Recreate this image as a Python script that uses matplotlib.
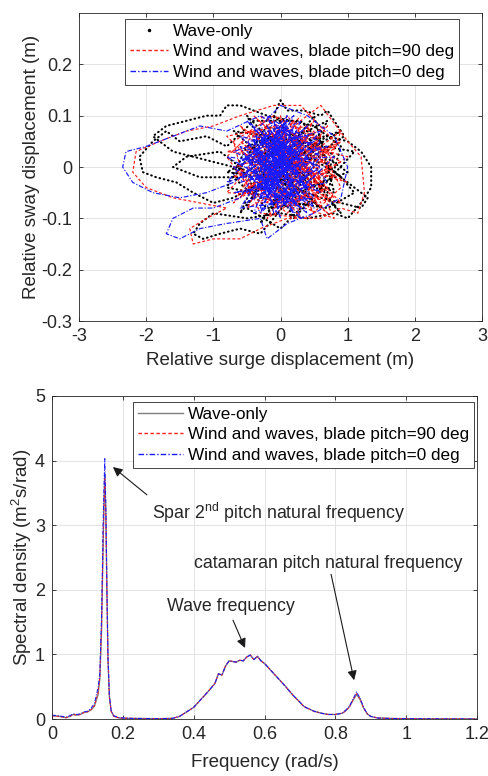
import numpy as np
import matplotlib
matplotlib.use("Agg")
import matplotlib.pyplot as plt
from matplotlib.lines import Line2D

plt.rcParams['font.family'] = ['Liberation Sans', 'DejaVu Sans']
plt.rcParams['mathtext.fontset'] = 'custom'
plt.rcParams['mathtext.rm'] = 'Liberation Sans'
plt.rcParams['mathtext.it'] = 'Liberation Sans:italic'

# ---------------- data: top panel (surge, sway) trajectories ----------------
wave_only_path = [
    (0.0, 0.0), (0.3, 0.05), (-0.2, 0.08), (-0.5, 0.02), (0.1, -0.06), (0.6, -0.03),
    (0.4, 0.07), (-0.3, 0.05), (-0.7, -0.02), (-0.2, -0.08), (0.5, -0.07), (0.8, 0.02),
    (0.3, 0.09), (-0.4, 0.09), (-0.8, 0.04), (-1.1, 0.06), (-1.5, 0.05), (-1.7, 0.07),
    (-1.9, 0.05), (-2.1, 0.02), (-2.05, -0.01), (-1.85, -0.02), (-1.55, -0.03),
    (-1.3, -0.05), (-1.0, -0.07), (-0.7, -0.06), (-0.3, -0.03), (0.2, 0.02), (0.7, 0.06),
    (1.0, 0.05), (1.2, 0.03), (1.35, 0.0), (1.35, -0.04), (1.2, -0.07), (1.0, -0.1),
    (0.8, -0.09), (0.4, -0.1), (0.0, -0.09), (-0.5, -0.1), (-1.0, -0.09), (-1.2, -0.11),
    (-1.3, -0.13), (-1.15, -0.14), (-0.9, -0.13), (-0.6, -0.12), (-0.3, -0.13),
    (-0.1, -0.1), (0.2, -0.05), (0.5, 0.0), (0.2, 0.06), (-0.1, 0.1), (0.0, 0.13),
    (0.1, 0.11), (0.35, 0.11), (0.6, 0.1), (0.7, 0.11), (0.85, 0.08), (0.95, 0.06),
    (0.6, 0.03), (0.1, -0.02), (-0.4, -0.05), (-0.8, -0.04), (-0.5, 0.04), (-0.1, 0.06),
    (0.4, 0.04), (0.9, -0.02), (1.1, -0.05), (0.7, -0.08), (0.2, -0.07), (-0.3, -0.06),
    (-0.6, 0.0), (-0.9, 0.03), (-1.4, 0.02), (-1.6, 0.0), (-1.2, -0.02), (-0.6, -0.02),
    (-0.1, 0.03), (0.3, 0.0), (0.7, -0.05), (0.9, 0.04), (0.5, 0.08), (-0.2, 0.1),
    (-0.6, 0.12), (-0.8, 0.12), (-0.9, 0.1), (-1.1, 0.1), (-1.4, 0.09), (-1.7, 0.08),
    (-1.9, 0.06), (-1.6, 0.03), (-1.0, 0.01), (-0.4, -0.01), (0.2, -0.04), (0.6, -0.06),
    (1.2, -0.08), (1.3, -0.06), (0.8, -0.01), (0.3, 0.03), (-0.2, 0.0), (-0.5, -0.08),
    (0.0, -0.12), (0.3, -0.08), (0.0, 0.0),
    (0.9, 0.07), (-0.3, 0.02), (0.6, -0.08), (-0.7, 0.07), (0.3, 0.05), (-0.1, -0.07),
    (1.0, -0.01), (0.0, 0.08), (-0.6, -0.09), (0.5, 0.1), (0.8, -0.05), (-0.4, 0.04),
    (0.2, -0.1), (1.1, 0.03), (-0.2, 0.06), (0.4, -0.03), (-0.8, -0.01), (0.7, 0.09),
    (0.1, -0.05), (-0.5, 0.1), (0.9, -0.09), (0.3, 0.01), (-0.3, -0.11), (0.6, 0.05),
    (0.0, 0.0),
]
pitch90_path = [
    (0.1, 0.0), (-0.3, 0.06), (0.4, 0.08), (0.7, 0.0), (0.2, -0.08), (-0.5, -0.05),
    (-0.7, 0.05), (-0.1, 0.1), (0.5, 0.06), (0.9, -0.04), (0.4, -0.1), (-0.3, -0.09),
    (-0.6, 0.0), (-0.2, 0.04), (0.3, -0.02), (0.8, 0.05), (0.3, 0.12), (-0.1, 0.12),
    (-0.6, 0.1), (-1.0, 0.08), (-1.4, 0.07), (-1.8, 0.05), (-2.15, 0.03), (-2.2, -0.01),
    (-2.0, -0.04), (-1.6, -0.06), (-1.2, -0.07), (-0.8, -0.08), (-1.1, -0.1),
    (-1.35, -0.12), (-1.3, -0.15), (-1.0, -0.14), (-0.6, -0.14), (-0.3, -0.12),
    (0.1, -0.1), (0.6, -0.1), (0.9, -0.08), (1.15, -0.09), (1.25, -0.05), (1.2, 0.02),
    (1.0, 0.05), (0.6, 0.12), (0.3, 0.09), (-0.2, 0.03), (-0.5, -0.03), (0.0, -0.06),
    (0.5, -0.03), (0.2, 0.05), (-0.4, 0.07), (-0.8, 0.02), (-0.3, -0.07), (0.3, -0.06),
    (0.7, 0.03), (0.1, 0.07), (-0.2, -0.02), (0.4, 0.02), (0.9, 0.07), (0.5, -0.07),
    (-0.1, -0.04), (-0.5, 0.05), (0.0, 0.1), (0.1, 0.02),
    (0.6, 0.04), (-0.4, -0.02), (0.2, 0.09), (-0.8, -0.05), (0.8, -0.06), (-0.1, 0.05),
    (0.5, -0.09), (-0.6, 0.08), (0.3, -0.01), (-0.3, 0.1), (0.9, 0.01), (-0.5, -0.08),
    (0.0, 0.03), (0.7, 0.08), (-0.2, -0.07), (0.4, 0.04), (-0.7, 0.0), (0.1, -0.09),
    (0.6, -0.02), (-0.4, 0.06), (1.0, -0.03), (0.2, 0.0), (-0.6, -0.06), (0.5, 0.09),
    (-0.1, -0.03), (0.8, 0.04), (-0.3, 0.02), (0.3, -0.08), (-0.8, 0.06), (0.0, 0.08),
    (0.6, -0.07), (-0.2, 0.07), (0.4, 0.01), (-0.5, -0.04), (0.9, -0.07), (0.1, 0.04),
    (-0.4, 0.1), (0.7, -0.04), (-0.1, -0.08), (0.5, 0.02), (-0.7, -0.02), (0.2, 0.06),
    (0.8, -0.1), (-0.3, -0.05), (0.3, 0.08), (0.0, -0.01), (-0.6, 0.03), (0.6, 0.06),
    (-0.2, -0.1), (0.4, -0.05),
    (0.7, -0.09), (-0.6, 0.05), (0.2, -0.04), (0.9, 0.05), (-0.3, -0.03), (0.5, 0.07),
    (-0.7, -0.07), (0.1, 0.1), (0.8, -0.02), (-0.4, 0.02), (0.3, -0.1), (-0.1, 0.08),
    (0.6, 0.01), (-0.8, 0.03), (0.4, 0.06), (0.0, -0.07), (1.0, 0.02), (-0.5, 0.07),
    (0.2, 0.03), (0.7, -0.06), (-0.2, 0.0), (0.5, -0.04), (0.0, 0.05), (0.3, 0.1),
]
pitch0_path = [
    (-0.1, 0.0), (0.3, 0.04), (-0.4, 0.06), (-0.2, -0.06), (0.4, -0.05), (0.1, 0.08),
    (-0.5, 0.02), (0.0, -0.08), (0.6, 0.02), (-0.3, 0.1), (-0.8, 0.07), (-1.2, 0.08),
    (-1.6, 0.06), (-2.0, 0.04), (-2.3, 0.03), (-2.35, 0.0), (-2.2, -0.03), (-1.9, -0.05),
    (-1.5, -0.06), (-1.1, -0.05), (-0.7, -0.03), (-0.2, 0.02), (0.3, -0.02), (-0.1, 0.05),
    (-0.6, -0.06), (-1.0, -0.08), (-1.3, -0.08), (-1.6, -0.1), (-1.7, -0.13),
    (-1.5, -0.14), (-1.2, -0.12), (-0.8, -0.11), (-0.3, -0.1), (-0.2, -0.14),
    (0.1, -0.11), (0.5, -0.09), (0.9, -0.06), (1.0, 0.0), (0.8, 0.06), (0.4, 0.1),
    (0.0, 0.12), (-0.3, 0.08), (0.2, 0.0), (-0.3, -0.04), (0.1, 0.04), (0.5, -0.02),
    (-0.1, -0.07), (-0.5, -0.01), (-0.2, 0.07), (0.2, 0.07), (0.6, 0.05), (0.0, -0.03),
    (-0.4, 0.03), (0.3, -0.08), (-0.2, -0.01), (0.1, 0.01),
    (0.2, -0.03), (-0.5, 0.05), (0.4, 0.06), (-0.3, -0.08), (0.1, 0.09), (-0.6, -0.03),
    (0.5, 0.01), (-0.1, -0.09), (-0.4, 0.08), (0.3, -0.06), (-0.2, 0.04), (0.6, -0.05),
    (-0.7, 0.03), (0.0, 0.06), (0.2, -0.08), (-0.3, 0.0), (0.4, 0.08), (-0.5, -0.07),
    (0.1, -0.02), (-0.1, 0.09), (0.5, -0.08), (-0.6, 0.06), (0.3, 0.03), (-0.2, -0.05),
    (0.0, 0.02), (-0.4, -0.03), (0.2, 0.1), (-0.3, 0.05), (0.6, 0.0), (-0.1, -0.06),
    (0.1, 0.05), (-0.5, 0.0), (0.3, -0.1), (-0.2, 0.08), (0.4, -0.02), (-0.7, -0.05),
    (0.0, -0.04), (-0.3, 0.03), (0.5, 0.05), (-0.1, 0.0), (0.2, -0.05), (-0.4, -0.09),
    (0.1, 0.07), (-0.6, 0.01), (0.3, 0.06), (-0.2, -0.03), (0.0, 0.08), (0.7, -0.03),
    (-0.3, -0.06), (0.2, 0.02), (-0.5, 0.09), (0.4, -0.04), (-0.1, 0.04), (-0.4, -0.01),
    (0.1, -0.07), (0.8, 0.02), (-0.2, 0.01), (0.0, -0.1), (-0.6, 0.04), (0.3, 0.0),
    (-0.8, 0.02), (0.4, -0.07), (-0.2, 0.1), (0.6, 0.03), (-0.5, -0.05), (0.1, 0.0),
    (-0.3, 0.07), (0.5, -0.06), (-0.6, -0.08), (0.2, 0.08), (-0.1, -0.02), (0.3, 0.05),
    (-0.7, 0.0), (0.0, -0.06), (0.4, 0.02), (-0.4, 0.05), (0.2, -0.09), (-0.2, -0.04),
    (0.6, 0.07), (-0.5, 0.03), (0.1, -0.04), (-0.3, -0.09), (0.3, 0.09), (-0.1, 0.06),
    (0.5, -0.01), (-0.6, -0.02), (0.0, 0.04), (-0.4, -0.06), (0.2, 0.04), (-0.2, 0.02),
    (0.7, 0.04), (-0.8, -0.03), (0.1, 0.1), (-0.3, -0.02), (0.4, -0.09), (0.0, 0.01),
]

# ---------------- data: bottom panel spectra ----------------
freq = [0.00, 0.02, 0.04, 0.05, 0.06, 0.07, 0.08, 0.09, 0.10, 0.11, 0.12, 0.13, 0.135,
        0.14, 0.145, 0.149, 0.152, 0.155, 0.158, 0.162, 0.167, 0.175, 0.19, 0.22, 0.30,
        0.34, 0.36, 0.38, 0.40, 0.42, 0.44, 0.46, 0.47, 0.48, 0.49, 0.50, 0.51, 0.52,
        0.53, 0.54, 0.55, 0.56, 0.57, 0.58, 0.59, 0.60, 0.61, 0.62, 0.64, 0.66, 0.68,
        0.70, 0.71, 0.72, 0.74, 0.76, 0.78, 0.80, 0.82, 0.83, 0.84, 0.85, 0.86, 0.87,
        0.88, 0.89, 0.90, 0.92, 0.96, 1.00, 1.10, 1.20]
psd_wave_only = [0.05, 0.04, 0.02, 0.04, 0.07, 0.06, 0.07, 0.10, 0.11, 0.14, 0.20, 0.38,
                 0.62, 1.40, 2.90, 3.80, 3.20, 2.00, 0.95, 0.35, 0.12, 0.04, 0.015, 0.01,
                 0.005, 0.01, 0.04, 0.11, 0.18, 0.30, 0.42, 0.55, 0.70, 0.68, 0.82, 0.90,
                 0.89, 0.88, 0.91, 0.90, 0.96, 0.99, 0.92, 0.97, 0.90, 0.86, 0.80, 0.74,
                 0.62, 0.50, 0.37, 0.26, 0.20, 0.17, 0.12, 0.09, 0.07, 0.07, 0.09, 0.13,
                 0.19, 0.29, 0.38, 0.30, 0.17, 0.08, 0.04, 0.015, 0.008, 0.005, 0.002, 0.0]
psd_pitch90 = [0.05, 0.04, 0.02, 0.04, 0.07, 0.06, 0.07, 0.10, 0.11, 0.14, 0.21, 0.40,
               0.64, 1.45, 2.95, 3.72, 3.15, 1.95, 0.92, 0.34, 0.12, 0.04, 0.015, 0.01,
               0.005, 0.01, 0.04, 0.11, 0.18, 0.30, 0.42, 0.55, 0.70, 0.68, 0.82, 0.90,
               0.89, 0.88, 0.91, 0.90, 0.96, 0.99, 0.92, 0.97, 0.90, 0.86, 0.80, 0.74,
               0.62, 0.50, 0.37, 0.26, 0.20, 0.17, 0.12, 0.09, 0.07, 0.07, 0.09, 0.13,
               0.19, 0.30, 0.39, 0.31, 0.17, 0.08, 0.04, 0.015, 0.008, 0.005, 0.002, 0.0]
psd_pitch0 = [0.06, 0.05, 0.03, 0.05, 0.08, 0.07, 0.08, 0.11, 0.12, 0.16, 0.25, 0.48,
              0.70, 1.60, 3.20, 4.03, 3.30, 2.05, 0.98, 0.36, 0.13, 0.05, 0.02, 0.01,
              0.005, 0.01, 0.04, 0.11, 0.18, 0.30, 0.42, 0.55, 0.70, 0.68, 0.82, 0.90,
              0.89, 0.88, 0.91, 0.90, 0.96, 0.99, 0.92, 0.97, 0.90, 0.86, 0.80, 0.74,
              0.62, 0.50, 0.37, 0.26, 0.20, 0.17, 0.12, 0.09, 0.07, 0.07, 0.09, 0.14,
              0.20, 0.31, 0.42, 0.32, 0.18, 0.08, 0.04, 0.015, 0.008, 0.005, 0.002, 0.0]

labels = ["Wave-only", "Wind and waves, blade pitch=90 deg", "Wind and waves, blade pitch=0 deg"]

# ---------------- figure ----------------
fig = plt.figure(figsize=(4.88, 7.76), dpi=100)
axc = '#262626'
gridc = '#e3e3e3'
TICK_FS = 13
LABEL_FS = 13.5
LEG_FS = 12.3
ANN_FS = 12.8
RED = '#ff1a1a'
BLUE = '#1a1aff'
RED_LS = (0, (2.5, 1.8))
BLUE_LS = (0, (4, 1.5, 1, 1.5))


def style(ax):
    ax.grid(True, color=gridc, lw=0.7)
    ax.set_axisbelow(True)
    ax.tick_params(direction='in', length=3, width=0.6, colors=axc, labelsize=TICK_FS,
                   top=True, right=True, pad=5)
    for s in ax.spines.values():
        s.set_color(axc)
        s.set_linewidth(0.6)


# top panel
ax1 = fig.add_axes([79 / 488, 1 - 321 / 776, 403 / 488, 308 / 776])
w = np.array(wave_only_path)
r = np.array(pitch90_path)
b = np.array(pitch0_path)
ax1.plot(w[:, 0], w[:, 1], color='k', ls=(0, (0.3, 1.8)), lw=1.5, dash_capstyle='round')
ax1.plot(r[:, 0], r[:, 1], color=RED, ls=RED_LS, lw=0.85)
ax1.plot(b[:, 0], b[:, 1], color=BLUE, ls=BLUE_LS, lw=0.85)
ax1.set_xlim(-3, 3)
ax1.set_ylim(-0.3, 0.3)
ax1.set_xticks([-3, -2, -1, 0, 1, 2, 3])
ax1.set_yticks([-0.3, -0.2, -0.1, 0, 0.1, 0.2])
ax1.set_yticklabels(['-0.3', '-0.2', '-0.1', '0', '0.1', '0.2'])
ax1.set_xticklabels(['-3', '-2', '-1', '0', '1', '2', '3'])
style(ax1)
ax1.set_xlabel('Relative surge displacement (m)', fontsize=LABEL_FS, color=axc, labelpad=5)
ax1.set_ylabel('Relative sway displacement (m)', fontsize=LABEL_FS, color=axc, labelpad=1)
h1 = [Line2D([], [], color='k', marker='.', ls='none', markersize=3),
      Line2D([], [], color=RED, ls=RED_LS, lw=1.0),
      Line2D([], [], color=BLUE, ls=BLUE_LS, lw=1.0)]
leg1 = ax1.legend(h1, labels, loc='upper left', bbox_to_anchor=(0.114, 0.98),
                  borderaxespad=0, fancybox=False, framealpha=1, edgecolor=axc,
                  fontsize=LEG_FS, handlelength=2.2, handletextpad=0.3, labelspacing=0.3,
                  borderpad=0.3)
leg1.get_frame().set_linewidth(0.6)

# bottom panel
ax2 = fig.add_axes([52 / 488, 1 - 719 / 776, 425 / 488, 323 / 776])
ax2.plot(freq, psd_wave_only, color='#7f7f7f', lw=1.0, label=labels[0])
ax2.plot(freq, psd_pitch90, color=RED, ls=RED_LS, lw=0.75, label=labels[1])
ax2.plot(freq, psd_pitch0, color=BLUE, ls=BLUE_LS, lw=0.75, label=labels[2])
ax2.set_xlim(0, 1.2)
ax2.set_ylim(0, 5)
ax2.set_xticks([0, 0.2, 0.4, 0.6, 0.8, 1.0, 1.2])
ax2.set_xticklabels(['0', '0.2', '0.4', '0.6', '0.8', '1', '1.2'])
ax2.set_yticks([0, 1, 2, 3, 4, 5])
style(ax2)
ax2.set_xlabel('Frequency (rad/s)', fontsize=LABEL_FS, color=axc, labelpad=8)
ax2.set_ylabel(r'Spectral density (m$^2$s/rad)', fontsize=LABEL_FS, color=axc, labelpad=1)
h2 = [Line2D([], [], color='#7f7f7f', lw=1.0),
      Line2D([], [], color=RED, ls=RED_LS, lw=1.0),
      Line2D([], [], color=BLUE, ls=BLUE_LS, lw=1.0)]
leg2 = ax2.legend(h2, labels, loc='upper right', bbox_to_anchor=(0.993, 0.981),
                  borderaxespad=0, fancybox=False, framealpha=1, edgecolor=axc,
                  fontsize=LEG_FS, handlelength=2.6, handletextpad=0.3, labelspacing=0.3,
                  borderpad=0.3)
leg2.get_frame().set_linewidth(0.6)

ap = dict(arrowstyle='-|>', color='#1a1a1a', lw=0.8, mutation_scale=14, shrinkA=0, shrinkB=0)
ax2.text(0.282, 3.19, r'Spar 2$^{\mathrm{nd}}$ pitch natural frequency', fontsize=ANN_FS,
         va='center', ha='left', color=axc)
ax2.annotate('', xy=(0.172, 3.9), xytext=(0.268, 3.47), arrowprops=ap)
ax2.text(0.401, 2.40, 'catamaran pitch natural frequency', fontsize=ANN_FS,
         va='center', ha='left', color=axc)
ax2.annotate('', xy=(0.853, 0.6), xytext=(0.788, 2.24), arrowprops=ap)
ax2.text(0.325, 1.74, 'Wave frequency', fontsize=ANN_FS, va='center', ha='left', color=axc)
ax2.annotate('', xy=(0.545, 1.10), xytext=(0.511, 1.53), arrowprops=ap)

fig.savefig('out.png', dpi=100)
